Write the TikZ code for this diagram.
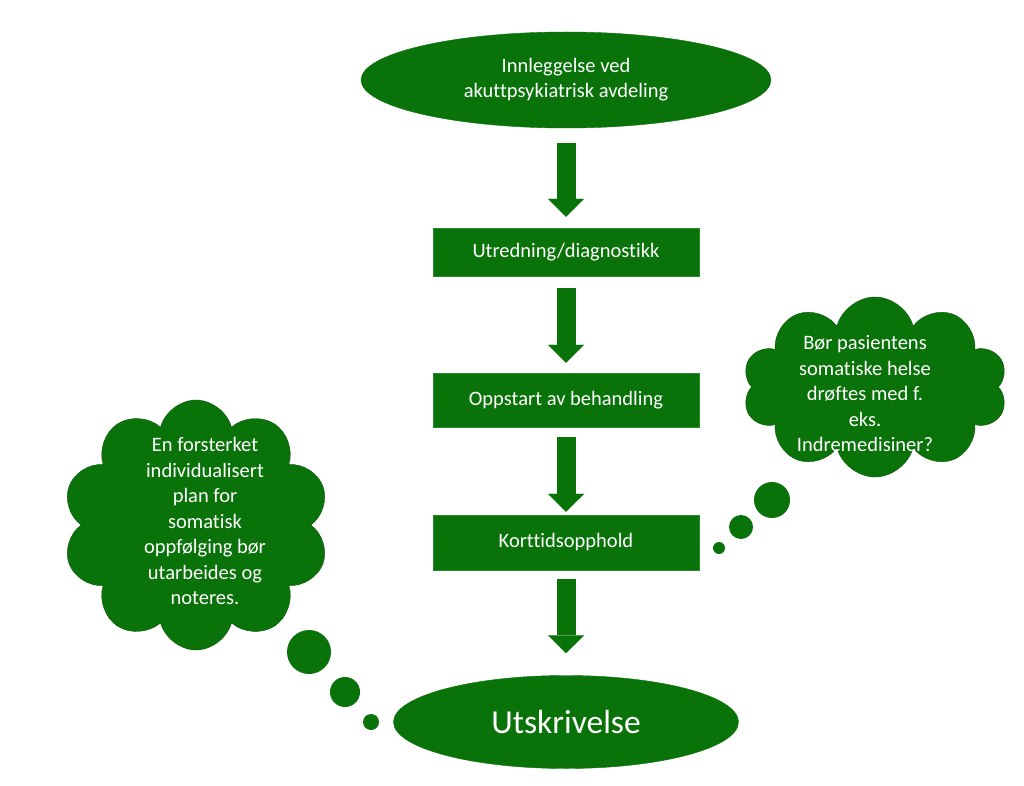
\documentclass[tikz,border=0pt]{standalone}
\usepackage{fontspec}
\setmainfont{Carlito}[Ligatures={TeX,NoCommon}]
\usetikzlibrary{positioning}
\usetikzlibrary{shapes.geometric}
\usetikzlibrary{shapes.symbols}
\usetikzlibrary{arrows.meta}
\usetikzlibrary{calc}

\definecolor{flowgreen}{RGB}{9,115,9}

\tikzset{
  oval/.style={ellipse, fill=flowgreen, draw=flowgreen, text=white, inner sep=0pt, align=center, font=\fontsize{20.5}{25}\selectfont},
  stepbox/.style={rectangle, fill=flowgreen, draw=flowgreen!85!white, text=white, minimum width=266pt, inner sep=0pt, font=\fontsize{20.5}{25}\selectfont},
  blockarrow/.style={draw=flowgreen, line width=19pt, -{Triangle[width=36pt,length=18pt,line width=0.1pt]}},
  thought/.style={cloud, cloud puffs=10, fill=flowgreen, draw=flowgreen!75!black, inner sep=0pt},
  bubble/.style={circle, fill=flowgreen, inner sep=0pt},
  cloudtext/.style={text=white, align=center, font=\fontsize{20.5}{25.5}\selectfont}
}

\begin{document}
\begin{tikzpicture}[x=1pt, y=-1pt]
  \useasboundingbox[fill=white] (0,0) rectangle (1024,786);

  % main flow
  \node[oval, minimum width=410pt, minimum height=96pt] (innleggelse) at (566,80) {Innleggelse ved\\akuttpsykiatrisk avdeling};
  \node[stepbox, minimum height=48pt] (utredning) at (566,252) {Utredning/diagnostikk};
  \node[stepbox, minimum height=54pt] (oppstart) at (566,400) {Oppstart av behandling};
  \node[stepbox, minimum height=55pt] (korttid) at (566,542.5) {Korttidsopphold};
  \node[oval, minimum width=345pt, minimum height=93pt, font=\fontsize{33.5}{40}\selectfont] (utskrivelse) at (566,722) {Utskrivelse};

  % block arrows between the steps
  \draw[blockarrow] ([yshift=-15pt]innleggelse.south) -- ([yshift=11pt]utredning.north);
  \draw[blockarrow] ([yshift=-12pt]utredning.south) -- ([yshift=10pt]oppstart.north);
  \draw[blockarrow] ([yshift=-10pt]oppstart.south) -- ([yshift=3pt]korttid.north);
  \draw[blockarrow] ([yshift=-9pt]korttid.south) -- ([yshift=22pt]utskrivelse.north);

  % thought clouds
  \node[thought, minimum width=267pt, minimum height=250pt] (leftcloud) at (196,525) {};
  \node[cloudtext] (lefttext) at (205,521) {En forsterket\\individualisert\\plan for\\somatisk\\oppfølging bør\\utarbeides og\\noteres.};
  \foreach \x/\y/\r [count=\i] in {309/652/22, 345/692/15, 371/722/8} {
    \node[bubble, minimum size={2*\r pt}] (lb\i) at (\x,\y) {};
  }

  \node[thought, minimum width=265pt, minimum height=180pt] (rightcloud) at (875,387) {};
  \node[cloudtext] (righttext) at (865,394) {Bør pasientens\\somatiske helse\\drøftes med f.\\eks.\\Indremedisiner?};
  \foreach \x/\y/\r [count=\i] in {772/500/18, 741/527/12, 719/548/6} {
    \node[bubble, minimum size={2*\r pt}] (rb\i) at (\x,\y) {};
  }
\end{tikzpicture}
\end{document}
